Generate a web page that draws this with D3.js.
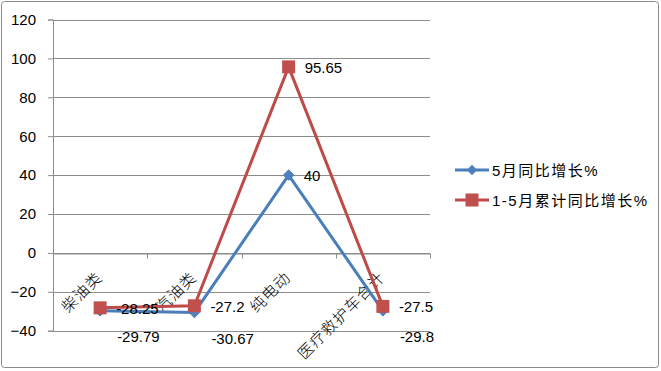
<!DOCTYPE html>
<html>
<head>
<meta charset="utf-8">
<script src="https://cdn.jsdelivr.net/npm/d3@7"></script>
<style>
  body { margin: 0; background: #fff; }
  svg text { font-family: "Liberation Sans", "Noto Sans CJK SC", sans-serif; fill: #000; }
</style>
</head>
<body>
<svg id="svg" width="661" height="371"></svg>
<script>
var categories = ["柴油类", "汽油类", "纯电动", "医疗救护车合计"];
var monthGrowth = [-29.79, -30.67, 40, -29.8];
var ytdGrowth = [-28.25, -27.2, 95.65, -27.5];
var yTicks = [-40, -20, 0, 20, 40, 60, 80, 100, 120];
var seriesNames = ["5月同比增长%", "1-5月累计同比增长%"];

var svg = d3.select("#svg");
var blue = "#4a7ebb", red = "#be4b48", gridColor = "#8c8c8c";

// frame
svg.append("rect")
   .attr("x", 1.5).attr("y", 1.5).attr("width", 657).attr("height", 366)
   .attr("rx", 3)
   .attr("fill", "#fff").attr("stroke", "#8a8a8a").attr("stroke-width", 1);

var plot = {left: 53, right: 430, top: 19.5, bottom: 330.7};

var yScale = d3.scaleLinear().domain([-40, 120]).range([plot.bottom, plot.top]);
var xScale = d3.scaleBand().domain(categories).range([plot.left, plot.right]).padding(0);

// y grid + axis
var yAxis = svg.append("g")
   .attr("transform", "translate(" + plot.left + ",0)")
   .call(d3.axisLeft(yScale).tickValues(yTicks).tickSize(5).tickPadding(12).tickFormat(d3.format("d")));
yAxis.select(".domain").attr("stroke", gridColor);
yAxis.selectAll(".tick line").attr("stroke", gridColor);
yAxis.selectAll(".tick text").attr("font-size", "15px").attr("font-family", "Liberation Sans, sans-serif");

svg.append("g").selectAll("line").data(yTicks).enter()
   .append("line")
   .attr("x1", plot.left).attr("x2", plot.right)
   .attr("y1", function(d){ return Math.round(yScale(d)) + 0.5; })
   .attr("y2", function(d){ return Math.round(yScale(d)) + 0.5; })
   .attr("stroke", gridColor).attr("stroke-width", 1);

// x axis at zero with category ticks
var y0 = Math.round(yScale(0)) + 0.5;
var xAxis = svg.append("g")
   .attr("transform", "translate(0," + y0 + ")")
   .call(d3.axisBottom(xScale).tickSize(0).tickFormat(""));
xAxis.select(".domain").attr("stroke", gridColor);
xAxis.selectAll("line.cat").data(categories.concat([null])).enter()
   .append("line").attr("class", "cat")
   .attr("x1", function(d, i){ return Math.round(plot.left + i * xScale.bandwidth()) + 0.5; })
   .attr("x2", function(d, i){ return Math.round(plot.left + i * xScale.bandwidth()) + 0.5; })
   .attr("y1", 0).attr("y2", 5)
   .attr("stroke", gridColor);

// category labels
svg.append("g").selectAll("text").data(categories).enter()
   .append("text")
   .attr("transform", function(d){
       var cx = xScale(d) + xScale.bandwidth() / 2 + 3;
       return "translate(" + cx + "," + (y0 + 25) + ") rotate(-45)";
   })
   .attr("text-anchor", "end")
   .attr("font-size", "15.5px")
   .attr("font-weight", 300)
   .attr("letter-spacing", "1px")
   .text(function(d){ return d; });

function cx(i){ return xScale(categories[i]) + xScale.bandwidth() / 2; }

var line = d3.line()
   .x(function(d, i){ return cx(i); })
   .y(function(d){ return yScale(d); });

// red series (behind)
svg.append("path").datum(ytdGrowth)
   .attr("d", line).attr("fill", "none").attr("stroke", red).attr("stroke-width", 3)
   .attr("stroke-linejoin", "round");
// blue series
svg.append("path").datum(monthGrowth)
   .attr("d", line).attr("fill", "none").attr("stroke", blue).attr("stroke-width", 3)
   .attr("stroke-linejoin", "round");

var diamond = d3.symbol().type(d3.symbolDiamond2).size(70);
svg.append("g").selectAll("path").data(monthGrowth).enter()
   .append("path")
   .attr("d", diamond)
   .attr("transform", function(d, i){ return "translate(" + cx(i) + "," + yScale(d) + ")"; })
   .attr("fill", "#4f81bd").attr("stroke", blue);

svg.append("g").selectAll("rect").data(ytdGrowth).enter()
   .append("rect")
   .attr("x", function(d, i){ return cx(i) - 6.5; })
   .attr("y", function(d){ return yScale(d) - 6.5; })
   .attr("width", 13).attr("height", 13)
   .attr("fill", "#c0504d");

// data labels
svg.append("g").selectAll("text").data(ytdGrowth).enter()
   .append("text")
   .attr("x", function(d, i){ return cx(i) + 16; })
   .attr("y", function(d){ return yScale(d) + 6; })
   .attr("font-size", "15px")
   .text(function(d){ return d; });

svg.append("g").selectAll("text").data(monthGrowth).enter()
   .append("text")
   .attr("x", function(d, i){ return cx(i) + (d < 0 ? 17 : 15); })
   .attr("y", function(d){ return yScale(d) + (d < 0 ? 31 : 6); })
   .attr("font-size", "15px")
   .text(function(d){ return d; });

// legend
var legend = svg.append("g");
var legendRows = [
  {name: seriesNames[0], color: blue, y: 170},
  {name: seriesNames[1], color: red, y: 200}
];
legendRows.forEach(function(r, i){
  legend.append("line")
     .attr("x1", 455).attr("x2", 489).attr("y1", r.y).attr("y2", r.y)
     .attr("stroke", r.color).attr("stroke-width", 3);
  if (i === 0) {
    legend.append("path").attr("d", diamond)
       .attr("transform", "translate(472," + r.y + ")")
       .attr("fill", "#4f81bd");
  } else {
    legend.append("rect").attr("x", 465.5).attr("y", r.y - 6.5)
       .attr("width", 13).attr("height", 13).attr("fill", "#c0504d");
  }
  legend.append("text")
     .attr("x", 492).attr("y", r.y + 5.5)
     .attr("font-size", "15px")
     .attr("letter-spacing", "1.5px")
     .text(r.name);
});
</script>
</body>
</html>
